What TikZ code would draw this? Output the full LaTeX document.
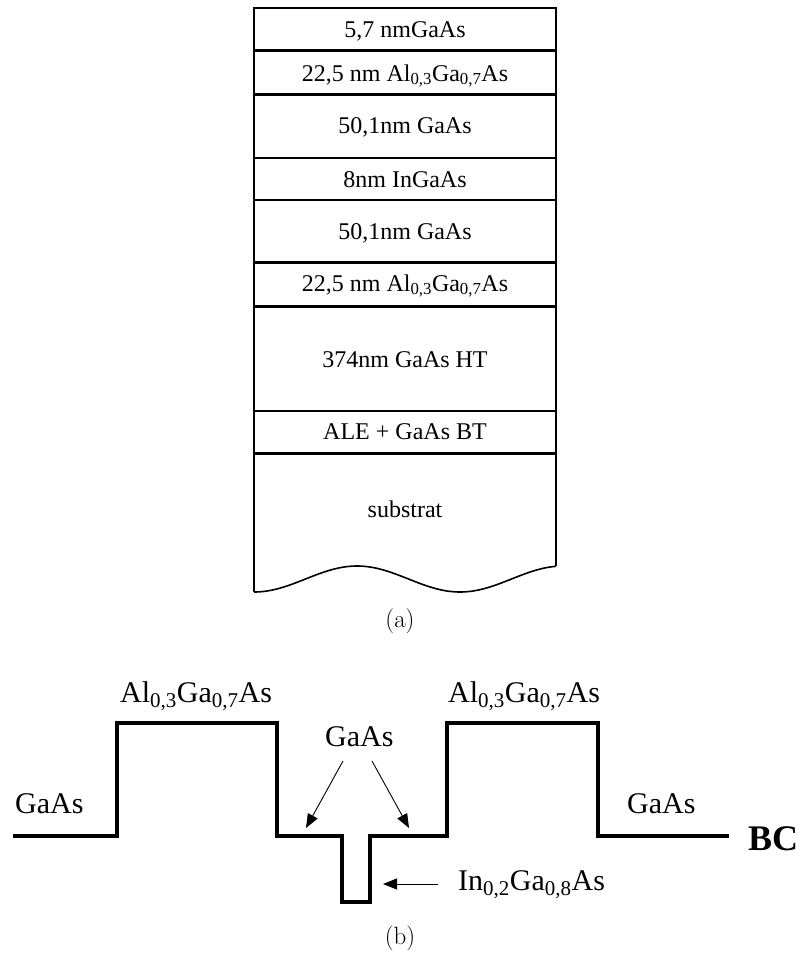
\documentclass[tikz,border=0pt]{standalone}
\usepackage{fontspec}
\newfontfamily\tnr{Liberation Serif}
\usetikzlibrary{arrows.meta}
\begin{document}
\begin{tikzpicture}[x=1pt,y=-1pt,
  layertext/.style={font=\tnr\fontsize{24}{28}\selectfont, anchor=base, inner sep=0pt},
  bandtext/.style={font=\tnr\fontsize{30}{36}\selectfont, anchor=base west, inner sep=0pt},
  bctext/.style={font=\tnr\bfseries\fontsize{36}{42}\selectfont, anchor=base west, inner sep=0pt},
  captext/.style={font=\fontsize{25}{30}\selectfont, inner sep=0pt},
  outline/.style={line width=2pt},
  thinsep/.style={line width=1.6pt},
  thicksep/.style={line width=3pt},
  band/.style={line width=4pt, line join=miter},
  pointer/.style={line width=0.9pt, -{Triangle[length=14pt,width=11pt]}},
]
\useasboundingbox (0,0) rectangle (800,956);

% ---- (a) layer stack ----
\draw[outline] (254,592) -- (254,8) -- (556,8) -- (556,566);
\draw[thicksep] (254,50) -- (556,50);
\draw[thicksep] (254,94) -- (556,94);
\draw[thinsep] (254,158) -- (556,158);
\draw[thinsep] (254,200) -- (556,200);
\draw[thicksep] (254,262) -- (556,262);
\draw[thicksep] (254,306) -- (556,306);
\draw[thinsep] (254,411) -- (556,411);
\draw[thicksep] (254,453) -- (556,453);
\draw[thinsep] plot[domain=254:556, samples=90] (\x,{579+13*cos((\x-254)/206*360)});

\node[layertext] (l1) at (405,37) {5,7 nmGaAs};
\node[layertext] (l2) at (405,81) {22,5 nm Al\textsubscript{0,3}Ga\textsubscript{0,7}As};
\node[layertext] (l3) at (405,133) {50,1nm GaAs};
\node[layertext] (l4) at (405,187) {8nm InGaAs};
\node[layertext] (l5) at (405,239) {50,1nm GaAs};
\node[layertext] (l6) at (405,291) {22,5 nm Al\textsubscript{0,3}Ga\textsubscript{0,7}As};
\node[layertext] (l7) at (405,367) {374nm GaAs HT};
\node[layertext] (l8) at (405,439) {ALE + GaAs BT};
\node[layertext] (l9) at (405,517) {substrat};

\node[captext] (capa) at (400,621) {(a)};

% ---- (b) band diagram ----
\draw[band] (13,836) -- (117,836) -- (117,723) -- (277,723) -- (277,836)
  -- (342,836) -- (342,902) -- (370,902) -- (370,836) -- (447,836)
  -- (447,723) -- (598,723) -- (598,836) -- (729,836);

\node[bandtext] (gaasL) at (15,813) {GaAs};
\node[bandtext] (algaL) at (120,702) {Al\textsubscript{0,3}Ga\textsubscript{0,7}As};
\node[bandtext] (gaasM) at (325,746) {GaAs};
\node[bandtext] (algaR) at (448,702) {Al\textsubscript{0,3}Ga\textsubscript{0,7}As};
\node[bandtext] (gaasR) at (627,813) {GaAs};
\node[bandtext] (ingaas) at (458,890) {In\textsubscript{0,2}Ga\textsubscript{0,8}As};
\node[bctext] (bc) at (748,850) {BC};

\coordinate (startL) at (343,761);
\coordinate (startR) at (372,761);
\coordinate (tipL) at (306,828);
\coordinate (tipR) at (409,828);
\coordinate (startIn) at (438,884);
\coordinate (tipIn) at (383,884);
\draw[pointer] (startL) -- (tipL);
\draw[pointer] (startR) -- (tipR);
\draw[pointer] (startIn) -- (tipIn);

\node[captext] (capb) at (400,938) {(b)};
\end{tikzpicture}
\end{document}
